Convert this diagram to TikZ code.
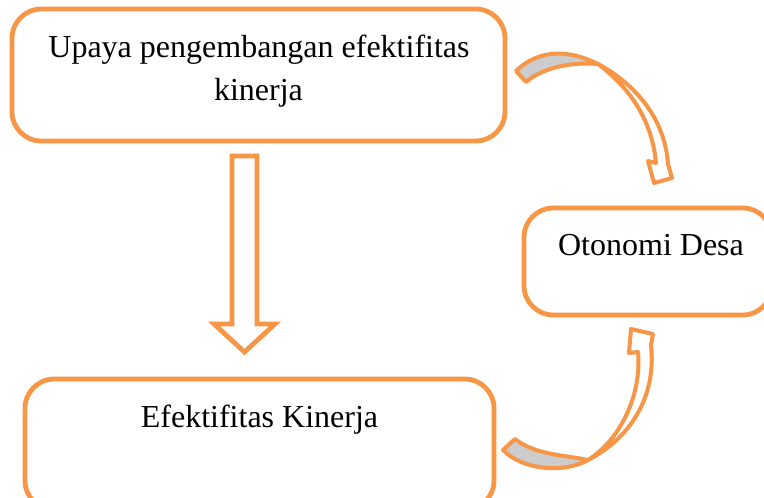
\documentclass[tikz,border=0pt]{standalone}
\usepackage{fontspec}
\setmainfont{Liberation Serif}
\definecolor{orng}{HTML}{F79646}
\definecolor{grayface}{HTML}{CCCCCC}
\begin{document}
\begin{tikzpicture}[x=0.75pt,y=-0.75pt,
  box/.style={draw=orng,line width=3.6pt,rounded corners=22pt,fill=white},
  lbl/.style={anchor=base,inner sep=0pt,font=\fontsize{24}{29}\selectfont},
  fatarrow/.style={draw=orng,line width=3.6pt,fill=white,line join=miter},
  ribbon/.style={draw=orng,line width=3pt,line join=round}]
\clip (0,0) rectangle (764,497);
\fill[white] (0,0) rectangle (764,497);
% boxes
\draw[box] (12,9) rectangle (505,141);
\draw[box] (524,208) rectangle (772,315);
\draw[box] (25,379) rectangle (494,510);
% texts
\node[lbl] (t1a) at (259,57) {Upaya pengembangan efektifitas};
\node[lbl] (t1b) at (258.5,100) {kinerja};
\node[lbl] (t2) at (651,255) {Otonomi Desa};
\node[lbl] (t3) at (259.5,427) {Efektifitas Kinerja};
% block down arrow
\draw[fatarrow] (232,156) -- (257,156) -- (257,324) -- (275,324) -- (244.5,352) -- (214,324) -- (232,324) -- cycle;
% curved arrow 1 (top -> Otonomi Desa)
\coordinate (p1) at (598,64);
\filldraw[ribbon,fill=grayface] (516,71) .. controls (540,48) and (570,50) .. (p1)
   .. controls (575,62) and (545,66) .. (526,82) -- cycle;
\filldraw[ribbon,fill=white] (p1) .. controls (637,85) and (665,120) .. (668,164)
   -- (672,178) -- (654,183) -- (648,161) -- (656,163)
   .. controls (652,120) and (630,88) .. (p1);
% curved arrow 2 (bottom -> Otonomi Desa)
\coordinate (p2) at (588,460);
\filldraw[ribbon,fill=grayface] (503,450) .. controls (520,468) and (560,475) .. (p2)
   .. controls (565,455) and (535,455) .. (515,439) -- cycle;
\filldraw[ribbon,fill=white] (p2) .. controls (627,440) and (657,400) .. (651,345)
   -- (653,334) -- (631,329) -- (629,353) -- (638,352)
   .. controls (642,395) and (620,440) .. (p2);
\end{tikzpicture}
\end{document}
